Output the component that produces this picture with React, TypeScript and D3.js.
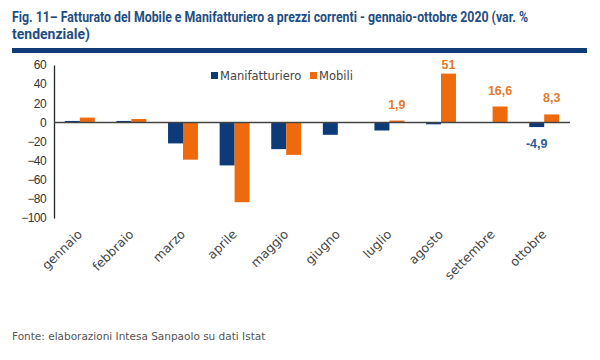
import React, { useEffect, useRef } from 'react';
import * as d3 from 'd3';

// Categories and values (var. % tendenziale)
const months = ['gennaio', 'febbraio', 'marzo', 'aprile', 'maggio', 'giugno', 'luglio', 'agosto', 'settembre', 'ottobre'];
const manifatturiero = [1.5, 1.5, -22, -45, -28, -13, -8.5, -2, -0.5, -4.9];
const mobili = [5, 3.5, -39, -83.5, -34, 0.4, 1.9, 51, 16.6, 8.3];
const yTicks = [60, 40, 20, 0, -20, -40, -60, -80, -100];
// value labels shown on the chart
const manifLabels = [{ i: 9, text: '-4,9' }];
const mobiliLabels = [{ i: 6, text: '1,9' }, { i: 7, text: '51' }, { i: 8, text: '16,6' }, { i: 9, text: '8,3' }];

const BLUE = '#0d3a78';
const ORANGE = '#ee6a0c';

function App() {
    const svgRef = useRef<SVGSVGElement>(null);

    useEffect(() => {
        const svg = d3.select(svgRef.current);
        svg.selectAll('*').remove();

        const W = 600, H = 360;
        svg.attr('width', W).attr('height', H);

        svg.append('rect').attr('width', W).attr('height', H).attr('fill', '#fff');

        // Title
        const title = svg.append('text')
            .attr('font-family', 'Roboto, sans-serif')
            .attr('font-weight', 'bold')
            .attr('font-size', 14)
            .attr('fill', '#1f4e82');
        title.append('tspan').attr('x', 12).attr('y', 22)
            .attr('textLength', 516).attr('lengthAdjust', 'spacingAndGlyphs')
            .text('Fig. 11– Fatturato del Mobile e Manifatturiero a prezzi correnti - gennaio-ottobre 2020 (var. %');
        title.append('tspan').attr('x', 12).attr('y', 39).text('tendenziale)');

        svg.append('rect').attr('x', 12).attr('y', 48).attr('width', 575).attr('height', 5).attr('fill', '#0f3c78');

        // Scales
        const x = d3.scaleBand<string>()
            .domain(months)
            .range([54, 570])
            .paddingInner(0.42)
            .paddingOuter(0.21);

        const xs = d3.scaleBand<string>()
            .domain(['manif', 'mobili'])
            .range([0, x.bandwidth()]);

        const y = d3.scaleLinear()
            .domain([-100, 60])
            .range([218, 65]);

        // Y axis
        const yAxis = svg.append('g')
            .attr('transform', 'translate(54,0)')
            .call(d3.axisLeft(y).tickValues(yTicks).tickSize(0).tickPadding(8).tickFormat(d3.format('d')));
        yAxis.select('.domain').attr('stroke', '#222').attr('stroke-width', 1.3);
        yAxis.selectAll('text')
            .attr('font-family', '"Liberation Sans", Arial, sans-serif')
            .attr('font-size', 12)
            .attr('letter-spacing', -0.6)
            .attr('fill', '#333');

        // Bars
        const bars = svg.append('g');
        bars.selectAll('rect.manif')
            .data(manifatturiero)
            .join('rect')
            .attr('class', 'manif')
            .attr('x', (d, i) => x(months[i])! + xs('manif')!)
            .attr('y', d => y(Math.max(0, d)))
            .attr('width', xs.bandwidth())
            .attr('height', d => Math.abs(y(d) - y(0)))
            .attr('fill', BLUE);
        bars.selectAll('rect.mobili')
            .data(mobili)
            .join('rect')
            .attr('class', 'mobili')
            .attr('x', (d, i) => x(months[i])! + xs('mobili')!)
            .attr('y', d => y(Math.max(0, d)))
            .attr('width', xs.bandwidth())
            .attr('height', d => Math.abs(y(d) - y(0)))
            .attr('fill', ORANGE);

        // Zero line
        svg.append('line')
            .attr('x1', 54).attr('x2', 570)
            .attr('y1', y(0)).attr('y2', y(0))
            .attr('stroke', '#444').attr('stroke-width', 1.5);

        // Data labels
        const lbl = svg.append('g')
            .attr('font-family', '"Liberation Sans", Arial, sans-serif')
            .attr('font-weight', 'bold')
            .attr('font-size', 12.5)
            .attr('text-anchor', 'middle');
        lbl.selectAll('text.mob')
            .data(mobiliLabels)
            .join('text')
            .attr('class', 'mob')
            .attr('x', d => x(months[d.i])! + xs('mobili')! + xs.bandwidth() / 2)
            .attr('y', d => Math.max(y(mobili[d.i]) - 12, 69))
            .attr('fill', '#e27a2a')
            .text(d => d.text);
        lbl.selectAll('text.man')
            .data(manifLabels)
            .join('text')
            .attr('class', 'man')
            .attr('x', d => x(months[d.i])! + xs('manif')! + xs.bandwidth() / 2)
            .attr('y', d => y(manifatturiero[d.i]) + 21)
            .attr('fill', '#2c5b98')
            .text(d => d.text);

        // X labels, rotated 45 degrees
        svg.append('g')
            .selectAll('text')
            .data(months)
            .join('text')
            .attr('transform', d => `translate(${x(d)! + x.bandwidth() / 2 + 3},235) rotate(-45)`)
            .attr('text-anchor', 'end')
            .attr('font-family', '"DejaVu Sans", sans-serif')
            .attr('font-size', 12.5)
            .attr('fill', '#444')
            .text(d => d);

        // Legend
        const legend = svg.append('g')
            .attr('font-family', '"DejaVu Sans", sans-serif')
            .attr('font-size', 11.5)
            .attr('fill', '#444');
        const items = [
            { name: 'Manifatturiero', color: BLUE, x: 211 },
            { name: 'Mobili', color: ORANGE, x: 310 }
        ];
        items.forEach(it => {
            legend.append('rect').attr('x', it.x).attr('y', 72).attr('width', 7).attr('height', 7).attr('fill', it.color);
            legend.append('text').attr('x', it.x + 9).attr('y', 80).text(it.name);
        });

        // Source
        svg.append('text')
            .attr('x', 12).attr('y', 340)
            .attr('font-family', '"DejaVu Sans", sans-serif')
            .attr('font-size', 10.5)
            .attr('fill', '#555')
            .text('Fonte: elaborazioni Intesa Sanpaolo su dati Istat');
    }, []);

    return (
        <div style={{ margin: -8 }}>
            <svg ref={svgRef}></svg>
        </div>
    );
}

export default App;
